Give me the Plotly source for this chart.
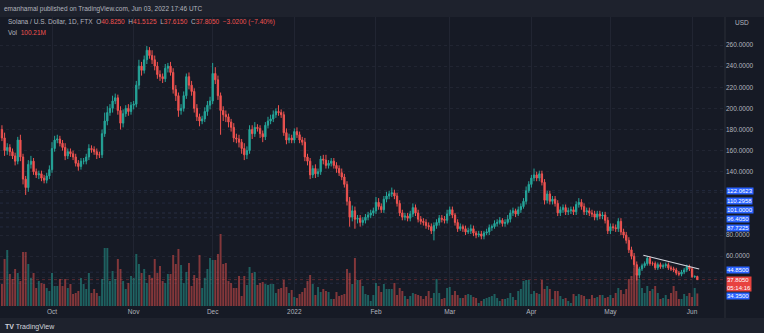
import plotly.graph_objects as go
import pandas as pd

# ---------------- data ----------------
start_date = "2021-09-12"
first_open = 180

close_sep = [172, 160, 163, 159, 155, 150, 170, 154, 133, 125, 147, 150, 140, 137, 138, 134, 132, 136, 142]
close_oct = [162, 170, 171, 167, 163, 155, 159, 157, 154, 148, 145, 150, 150, 154, 162, 161, 159, 156, 156, 176,
             188, 196, 200, 207, 210, 198, 186, 195, 200, 197, 203]
close_nov = [204, 222, 240, 236, 246, 255, 250, 246, 240, 232, 230, 228, 238, 240, 234, 218, 212, 198, 200, 212,
             230, 222, 216, 200, 192, 188, 190, 197, 203, 207]
close_dec = [233, 227, 212, 198, 194, 192, 187, 182, 172, 171, 168, 162, 156, 160, 180, 176, 182, 181, 176, 173,
             184, 188, 190, 194, 197, 196, 194, 177, 170, 172, 170]
close_jan = [178, 175, 170, 168, 154, 150, 137, 143, 138, 140, 152, 151, 146, 148, 150, 146, 143, 139, 135, 128,
             112, 97, 103, 95, 96, 92, 94, 97, 99, 101, 103]
close_feb = [111, 107, 104, 114, 117, 119, 120, 117, 110, 101, 97, 98, 96, 100, 106, 101, 95, 93, 92, 89,
             88, 84, 89, 92, 96, 95, 94, 100]
close_mar = [104, 99, 92, 86, 88, 86, 83, 84, 86, 82, 80, 81, 79, 82, 83, 87, 88, 91, 92, 94,
             91, 92, 95, 101, 103, 100, 104, 107, 112, 122, 128]
close_apr = [134, 137, 134, 138, 130, 113, 119, 112, 114, 110, 101, 104, 106, 102, 103, 104, 102, 109, 111, 107,
             102, 103, 101, 100, 97, 100, 98, 99, 94, 84]
close_may = [88, 87, 86, 93, 83, 80, 75, 66, 60, 52, 42, 48, 51, 53, 58, 53, 53, 49, 52, 50,
             51, 52, 49, 48, 47, 44, 43, 45, 47, 50, 48]
close_jun = [40.5, 40.825, 37.805]

up_sep = [4, 5, 4, 3, 3, 3, 3, 5, 3, 3, 4, 5, 3, 3, 3, 3, 3, 3, 4]
lo_sep = [3, 5, 4, 4, 3, 4, 3, 4, 5, 7, 4, 4, 3, 3, 4, 3, 3, 3, 3]
up_oct = [6, 4, 4, 3, 3, 4, 3, 3, 3, 3, 3, 3, 3, 3, 4, 3, 3, 3, 3, 4, 8, 6, 4, 5, 4, 3, 4, 4, 3, 4, 3]
lo_oct = [3, 3, 3, 3, 3, 4, 3, 3, 3, 3, 4, 3, 3, 3, 3, 3, 3, 4, 3, 3, 3, 4, 3, 4, 3, 4, 6, 4, 3, 4, 3]
up_nov = [3, 4, 6, 4, 4, 4, 3, 5, 4, 4, 4, 3, 4, 3, 4, 4, 4, 3, 4, 4, 3, 4, 4, 3, 4, 3, 3, 4, 4, 4]
lo_nov = [4, 3, 4, 5, 3, 4, 3, 4, 4, 4, 4, 4, 3, 4, 3, 4, 5, 6, 4, 3, 3, 4, 4, 4, 4, 5, 3, 3, 4, 4]
up_dec = [10, 6, 4, 3, 4, 4, 3, 3, 4, 4, 4, 3, 5, 4, 4, 4, 5, 3, 3, 3, 3, 4, 4, 4, 3, 6, 3, 3, 4, 4, 3]
lo_dec = [3, 4, 4, 23, 6, 5, 5, 4, 4, 4, 5, 5, 5, 4, 3, 5, 3, 3, 4, 5, 3, 3, 3, 3, 3, 3, 3, 3, 4, 3, 3]
up_jan = [3, 4, 3, 3, 4, 3, 3, 3, 4, 3, 3, 4, 5, 3, 3, 3, 3, 3, 4, 3, 3, 4, 5, 4, 3, 3, 3, 3, 3, 3, 3]
lo_jan = [3, 3, 3, 3, 4, 4, 4, 3, 4, 3, 3, 4, 3, 3, 3, 3, 4, 3, 3, 3, 4, 9, 4, 9, 4, 4, 3, 3, 3, 3, 3]
up_feb = [5, 4, 3, 3, 4, 3, 5, 3, 3, 3, 3, 3, 3, 3, 4, 3, 3, 3, 3, 3, 3, 3, 3, 3, 3, 3, 3, 4]
lo_feb = [3, 3, 3, 3, 3, 3, 3, 3, 3, 3, 3, 3, 3, 3, 3, 3, 3, 3, 3, 3, 3, 3, 9, 3, 3, 3, 3, 3]
up_mar = [3, 3, 2, 3, 3, 2, 3, 3, 4, 3, 2, 3, 3, 2, 3, 3, 2, 3, 3, 3, 2, 3, 4, 3, 3, 2, 3, 3, 3, 4, 3]
lo_mar = [2, 3, 3, 3, 2, 3, 3, 2, 3, 3, 3, 2, 3, 3, 2, 3, 3, 2, 3, 2, 3, 3, 2, 3, 3, 3, 2, 3, 2, 3, 2]
up_apr = [3, 6, 3, 3, 3, 3, 3, 3, 3, 3, 3, 3, 3, 3, 3, 3, 3, 3, 4, 3, 3, 3, 3, 3, 3, 3, 3, 3, 3, 3]
lo_apr = [3, 3, 3, 3, 3, 4, 3, 3, 3, 3, 3, 3, 3, 3, 3, 3, 3, 3, 3, 3, 3, 3, 3, 3, 3, 3, 3, 3, 3, 3]
up_may = [3, 3, 3, 3, 3, 3, 3, 3, 3, 3, 3, 2, 2, 2, 2, 2, 2, 2, 2, 2, 2, 2, 2, 2, 2, 2, 2, 2, 2, 2, 2]
lo_may = [3, 3, 3, 3, 3, 3, 3, 3, 3, 3, 5, 3, 2, 2, 2, 2, 2, 2, 2, 2, 2, 2, 2, 2, 2, 2, 2, 2, 2, 2, 2]
up_jun = [2, 1, 0.6875]
lo_jun = [1, 1, 0.19]

# volume in millions USD
vol_part1 = [176, 376, 448, 256, 216, 296, 264, 200, 432, 432, 336, 224, 264, 144, 200, 184, 176, 144, 120, 264,
             160, 160, 216, 160, 216, 144, 176, 96, 104, 120, 224, 176, 136, 264, 104, 136, 104, 80, 216, 464,
             464, 200, 280, 216, 376, 296, 200, 136, 184, 240, 224, 416, 336, 264, 296, 184, 248, 224, 376, 264,
             320, 200, 184, 256, 256, 408, 336, 456, 328, 184, 272, 344, 160, 248, 224, 408, 144, 224, 296, 384,
             368, 368, 416, 576, 336, 344, 200, 184, 144, 144, 240]
vol_part2 = [80, 240, 168, 312, 264, 272, 168, 184, 192, 176, 168, 176, 176, 104, 136, 144, 208, 152, 104, 128,
             72, 64, 96, 112, 144, 200, 248, 176, 88, 152, 112, 136, 120, 112, 56, 56, 112, 80, 88, 96,
             296, 264, 176, 384, 208, 208, 160, 96, 88, 40, 88, 184, 160, 112, 176, 136, 136, 136, 184, 88,
             144, 120, 80, 56, 80, 104, 96, 88, 80, 56, 80, 120, 64, 104, 216, 104, 56, 64, 144, 152,
             88, 120, 88, 64, 64, 88, 96, 88, 72, 64, 24]
vol_part3 = [40, 56, 64, 72, 80, 96, 64, 40, 56, 56, 64, 104, 72, 48, 120, 136, 200, 208, 208, 96,
             120, 104, 96, 208, 136, 160, 136, 56, 120, 120, 80, 56, 64, 40, 24, 96, 80, 96, 88, 80,
             56, 56, 88, 64, 72, 88, 88, 64, 72, 88, 64, 104, 144, 128, 96, 136, 216, 240, 304, 264,
             216, 144, 104, 160, 120, 136, 160, 104, 56, 64, 88, 56, 104, 160, 120, 56, 56, 96, 80, 104,
             72, 144, 100.21]

level_prices = [122.0623, 110.2958, 101.0, 96.405, 87.7225, 44.85, 34.35]
level_shift_px = [0, 2.3, 2.9, -1.2, -0.8, 2, -12.7]
last_price = 37.805
countdown = "05:14:16"
trend_x = ["2022-05-13 12:00", "2022-06-03 17:00"]
trend_y = [60.9, 47.9]
month_ticks = ["2021-10-01", "2021-11-01", "2021-12-01", "2022-01-01", "2022-02-01",
               "2022-03-01", "2022-04-01", "2022-05-01", "2022-06-01"]
month_text = ["Oct", "Nov", "Dec", "2022", "Feb", "Mar", "Apr", "May", "Jun"]
price_ticks = [40, 60, 80, 100, 120, 140, 160, 180, 200, 220, 240, 260]
price_text = ["", "60.0000", "80.0000", "", "", "140.0000", "160.0000", "180.0000", "200.0000",
              "220.0000", "240.0000", "260.0000"]

# ---------------- build OHLC ----------------
closes = close_sep + close_oct + close_nov + close_dec + close_jan + close_feb + close_mar + close_apr + close_may + close_jun
ups = up_sep + up_oct + up_nov + up_dec + up_jan + up_feb + up_mar + up_apr + up_may + up_jun
los = lo_sep + lo_oct + lo_nov + lo_dec + lo_jan + lo_feb + lo_mar + lo_apr + lo_may + lo_jun
volumes = vol_part1 + vol_part2 + vol_part3
dates = pd.date_range(start_date, periods=len(closes), freq="D")
opens = [first_open] + closes[:-1]
highs = [max(o, c) + u for o, c, u in zip(opens, closes, ups)]
lows = [min(o, c) - l for o, c, l in zip(opens, closes, los)]

UP = "#26a69a"
DOWN = "#ef5350"
BG = "#161a25"
BAND = "#1e222d"
TXT = "#b2b5be"
GRID = "#212532"

vol_colors = ["rgba(38,166,154,0.5)" if c >= o else "rgba(239,83,80,0.5)" for o, c in zip(opens, closes)]

fig = go.Figure()
fig.add_trace(go.Bar(x=dates, y=volumes, marker=dict(color=vol_colors, line=dict(width=0)),
                     yaxis="y2", showlegend=False, hoverinfo="skip"))
fig.add_trace(go.Candlestick(x=dates, open=opens, high=highs, low=lows, close=closes,
                             increasing=dict(line=dict(color=UP, width=1), fillcolor=UP),
                             decreasing=dict(line=dict(color=DOWN, width=1), fillcolor=DOWN),
                             showlegend=False))

# plot geometry in pixels
W, H = 764, 333
ML, MR, MT, MB = 0, 39, 17, 27
plot_w = W - ML - MR
plot_h = H - MT - MB
px_per_day = 2.634
x0 = pd.Timestamp("2021-10-01") - pd.Timedelta(days=52 / px_per_day)
x1 = x0 + pd.Timedelta(days=plot_w / px_per_day)
px_per_unit = 1.056
y_top = 260 + (45 - MT) / px_per_unit
y_bot = 260 - (MT + plot_h - 45) / px_per_unit


def py(pix):
    return (MT + plot_h - pix) / plot_h


def pxp(pix):
    return (pix - ML) / plot_w


shapes = []
# header and footer bands
shapes.append(dict(type="rect", xref="paper", yref="paper", x0=-0.01, x1=1.1, y0=py(17), y1=py(-1),
                   fillcolor=BAND, line=dict(width=0), layer="below"))
shapes.append(dict(type="rect", xref="paper", yref="paper", x0=-0.01, x1=1.1, y0=py(334), y1=py(318),
                   fillcolor=BAND, line=dict(width=0), layer="below"))
# horizontal drawn levels (faint)
for lp in level_prices:
    shapes.append(dict(type="line", xref="paper", yref="y", x0=0, x1=1, y0=lp, y1=lp,
                       line=dict(color="rgba(60,72,110,0.35)", width=1, dash="dot"), layer="below"))
shapes.append(dict(type="line", xref="paper", yref="y", x0=0, x1=1, y0=last_price, y1=last_price,
                   line=dict(color="rgba(239,83,80,0.3)", width=1, dash="dot"), layer="below"))
# trend line
shapes.append(dict(type="line", xref="x", yref="y", x0=trend_x[0], x1=trend_x[1], y0=trend_y[0], y1=trend_y[1],
                   line=dict(color="#d1d4dc", width=1.2)))
# price-axis separator
shapes.append(dict(type="line", xref="paper", yref="paper", x0=1, x1=1, y0=py(318), y1=1,
                   line=dict(color="#2a2e39", width=1)))

FONT = "Liberation Sans"
ann = []
ann.append(dict(xref="paper", yref="paper", x=pxp(2), y=py(9), xanchor="left", yanchor="middle", showarrow=False,
                text="emanhamal published on TradingView.com, Jun 03, 2022 17:46 UTC",
                font=dict(family=FONT, size=6.5, color=TXT)))


def sp(t, c):
    return f'<span style="color:{c}">{t}</span>'


line1 = (sp("Solana / U.S. Dollar, 1D, FTX", TXT) + "  " + sp("O", TXT) + sp("40.8250", DOWN) + "  " +
         sp("H", TXT) + sp("41.5125", DOWN) + "  " + sp("L", TXT) + sp("37.6150", DOWN) + "  " +
         sp("C", TXT) + sp("37.8050", DOWN) + "  " + sp("−3.0200 (−7.40%)", DOWN))
ann.append(dict(xref="paper", yref="paper", x=pxp(6), y=py(22.5), xanchor="left", yanchor="middle", showarrow=False,
                text=line1, font=dict(family=FONT, size=6.5, color=TXT)))
ann.append(dict(xref="paper", yref="paper", x=pxp(6), y=py(32), xanchor="left", yanchor="middle", showarrow=False,
                text=sp("Vol", TXT) + "  " + sp("100.21M", DOWN), font=dict(family=FONT, size=6.5, color=TXT)))
ann.append(dict(xref="paper", yref="paper", x=1, xshift=8, y=py(23), xanchor="left", yanchor="middle",
                showarrow=False, text="USD", font=dict(family=FONT, size=6.5, color=TXT)))
ann.append(dict(xref="paper", yref="paper", x=pxp(3), y=py(327), xanchor="left", yanchor="middle", showarrow=False,
                text="<b>TV</b> TradingView", font=dict(family=FONT, size=7, color="#d1d4dc")))
for lp, sh in zip(level_prices, level_shift_px):
    ann.append(dict(xref="paper", yref="y", x=1, xshift=1, y=lp, yshift=sh, xanchor="left", yanchor="middle",
                    showarrow=False, text=f"{lp:.4f}", bgcolor="#2962ff", borderpad=0,
                    font=dict(family=FONT, size=6, color="#ffffff")))
ann.append(dict(xref="paper", yref="y", x=1, xshift=1, y=last_price, yshift=-4.5, xanchor="left", yanchor="middle",
                showarrow=False, text=f"{last_price:.4f}<br>{countdown}", bgcolor="#e8423f", borderpad=0,
                align="left", font=dict(family=FONT, size=6, color="#ffffff")))

fig.update_layout(
    width=W, height=H, margin=dict(l=ML, r=MR, t=MT, b=MB, pad=0),
    paper_bgcolor=BG, plot_bgcolor=BG, showlegend=False, bargap=0.25,
    shapes=shapes, annotations=ann,
    xaxis=dict(type="date", range=[x0, x1], rangeslider=dict(visible=False), tickvals=month_ticks,
               ticktext=month_text, tickfont=dict(family=FONT, size=6.5, color=TXT), showgrid=True,
               gridcolor=GRID, gridwidth=1, zeroline=False, showline=False, ticks="", fixedrange=True),
    yaxis=dict(side="right", range=[y_bot, y_top], tickvals=price_ticks, ticktext=price_text,
               tickfont=dict(family=FONT, size=6.5, color=TXT), showgrid=True, gridcolor=GRID,
               griddash="dot", zeroline=False, ticks="", showline=False),
    yaxis2=dict(overlaying="y", range=[0, plot_h * 8], showgrid=False, showticklabels=False, zeroline=False,
                visible=False),
)

fig.write_html("out.html")
